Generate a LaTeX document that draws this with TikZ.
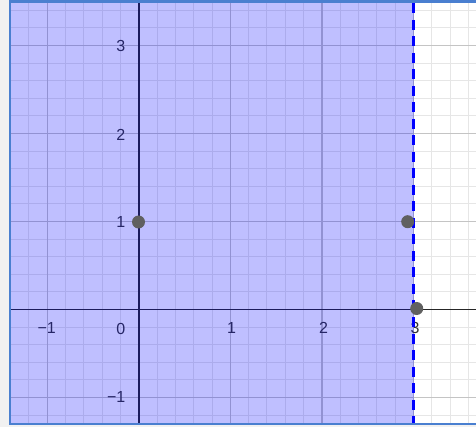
\documentclass[tikz,border=0pt]{standalone}
\usepackage{fontspec}
\setmainfont{Liberation Sans}
\definecolor{outergray}{HTML}{F1F1F1}
\definecolor{minorgrid}{HTML}{E6E6E6}
\definecolor{majorgrid}{HTML}{C4C4C4}
\definecolor{axiscol}{HTML}{262626}
\definecolor{labelcol}{HTML}{333333}
\definecolor{framecol}{HTML}{4A7FD0}
\definecolor{ptcol}{HTML}{606060}
\tikzset{
  minorline/.style={draw=minorgrid, line width=0.9pt},
  majorline/.style={draw=majorgrid, line width=1.2pt},
  axisline/.style={draw=axiscol, line width=1.8pt},
  ticklabel/.style={text=labelcol, font=\fontsize{16}{16}\selectfont, inner sep=0pt},
  shade region/.style={fill=blue, fill opacity=0.25},
  boundary/.style={draw=blue, line width=3.5pt, dash pattern=on 10pt off 6.5pt},
  pt/.style={circle, fill=ptcol, minimum size=13pt, inner sep=0pt},
}
\begin{document}
\begin{tikzpicture}[x=1pt,y=-1pt]
\useasboundingbox (0,0) rectangle (476,427);
\fill[outergray] (0,0) rectangle (476,427);
\fill[white] (9.7,1.5) rectangle (480,423.8);
\begin{scope}
\clip (9.7,1.5) rectangle (476,423.8);
% minor grid
\foreach \i in {-7,...,18} {
  \draw[minorline] ({138.7+18.32*\i},0) -- ({138.7+18.32*\i},430);
}
\foreach \j in {-7,...,18} {
  \draw[minorline] (0,{309.5-17.6*\j}) -- (480,{309.5-17.6*\j});
}
% major grid
\foreach \i in {-1,1,2,3} {
  \draw[majorline] ({138.7+91.6*\i},0) -- ({138.7+91.6*\i},430);
}
\foreach \j in {-1,1,2,3} {
  \draw[majorline] (0,{309.5-88*\j}) -- (480,{309.5-88*\j});
}
% axes
\draw[axisline] (0,309.5) -- (480,309.5);
\draw[axisline] (138.7,0) -- (138.7,430);
% labels
\node[ticklabel, anchor=east] (ly3) at (125.5,46) {3};
\node[ticklabel, anchor=east] (ly2) at (125.5,134.5) {2};
\node[ticklabel, anchor=east] (ly1) at (125.5,221.5) {1};
\node[ticklabel, anchor=east] (lym1) at (125.5,396.5) {−1};
\node[ticklabel, anchor=east] (lx0) at (125.5,328.5) {0};
\node[ticklabel] (lxm1) at (46.7,328) {−1};
\node[ticklabel] (lx1) at (231.5,327.5) {1};
\node[ticklabel] (lx2) at (323.5,327.5) {2};
\node[ticklabel] (lx3) at (415,328) {3};
% shaded region x < 3
\fill[shade region] (0,0) rectangle (413.5,430);
% boundary
\draw[boundary] (413.5,-13) -- (413.5,430);
\end{scope}
% points
\node[pt] (p1) at (138.5,222) {};
\node[pt] (p2) at (407.7,221.7) {};
\node[pt] (p3) at (416.7,308.5) {};
% frame
\draw[framecol, line width=2.3pt] (480,1.5) -- (9.7,1.5) -- (9.7,423.8) -- (480,423.8);
\end{tikzpicture}
\end{document}
